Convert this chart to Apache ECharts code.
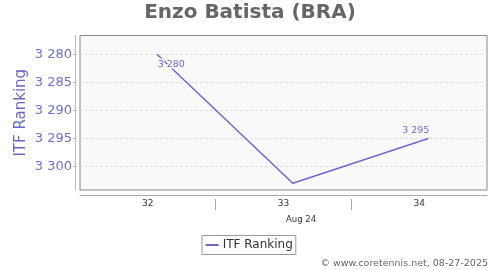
<!DOCTYPE html>
<html>
<head>
<meta charset="utf-8">
<script src="https://cdn.jsdelivr.net/npm/echarts@6/dist/echarts.min.js"></script>
<style>
html,body{margin:0;padding:0;background:#fff;}
#c{width:500px;height:270px;}
</style>
</head>
<body>
<div id="c"></div>
<script>
// ---- data ----
const categories = [32, 33, 34];
const rankingValues = [3280, 3303, 3295];
const labelShown = [true, false, true];
const yTickValues = [3280, 3285, 3290, 3295, 3300];
const periodLabel = 'Aug 24';
const seriesName = 'ITF Ranking';
const titleText = 'Enzo Batista (BRA)';
const creditText = '\u00a9 www.coretennis.net, 08-27-2025';

const FONT = 'DejaVu Sans';
const lineColor = '#6a6acc';

function fmt(v) {
  const s = String(Math.round(v));
  return s.replace(/\B(?=(\d{3})+(?!\d))/g, ' ');
}

const seriesData = categories.map((c, i) => {
  const item = { value: [c, rankingValues[i]] };
  if (labelShown[i]) {
    const first = i === 0;
    item.label = {
      show: true,
      position: first ? 'bottom' : 'top',
      distance: first ? 4 : 2.5,
      offset: first ? [14, 0] : [-12.5, 0]
    };
  } else {
    item.label = { show: false };
  }
  return item;
});

const boundaries = categories.slice(1).map(c => c - 0.5);

const chart = echarts.init(document.getElementById('c'), null, { renderer: 'canvas' });
chart.setOption({
  backgroundColor: '#fff',
  animation: false,
  textStyle: { fontFamily: FONT },
  title: {
    text: titleText,
    left: 'center',
    top: 3,
    padding: 0,
    textStyle: { fontFamily: FONT, fontSize: 20, fontWeight: 'bold', color: '#666' }
  },
  grid: {
    left: 80, top: 35.5, right: 13, bottom: 80,
    show: true, backgroundColor: '#f9f9f9', borderColor: '#888', borderWidth: 1
  },
  legend: {
    data: [seriesName],
    left: 202, top: 235.5,
    padding: [3.5, 3, 3.5, 3.7],
    itemWidth: 13, itemHeight: 2, icon: 'rect', itemGap: 4,
    borderColor: '#999', borderWidth: 1, backgroundColor: '#fff',
    textStyle: { fontFamily: FONT, fontSize: 12, color: '#333', padding: [0, 0, 0, -1] }
  },
  xAxis: [
    {
      type: 'category',
      data: categories.map(String),
      position: 'bottom',
      offset: 5,
      boundaryGap: true,
      axisLine: { show: true, lineStyle: { color: '#aaa', width: 1 } },
      axisTick: { show: false },
      axisLabel: { margin: 4, fontFamily: FONT, fontSize: 9, color: '#333' },
      splitLine: { show: false }
    },
    {
      type: 'value',
      min: categories[0] - 0.5,
      max: categories[categories.length - 1] + 0.5,
      position: 'bottom',
      offset: 9,
      axisLine: { show: false },
      axisTick: { show: true, length: 11, lineStyle: { color: '#aaa' }, customValues: boundaries },
      axisLabel: { show: false },
      splitLine: { show: false }
    },
    {
      type: 'value',
      min: 31.43,
      max: 34.433,
      show: false,
      splitLine: { show: false }
    }
  ],
  yAxis: {
    type: 'value',
    inverse: true,
    min: 3276.6,
    max: 3304.2,
    offset: 5,
    name: seriesName,
    nameLocation: 'middle',
    nameRotate: 90,
    nameGap: 46,
    nameMoveOverlap: false,
    nameTextStyle: { fontFamily: FONT, fontSize: 15, color: '#6666cc' },
    axisLine: { show: true, lineStyle: { color: '#b4b4e4', width: 1 } },
    axisTick: { show: true, length: 2, lineStyle: { color: '#b4b4e4' }, customValues: yTickValues },
    axisLabel: {
      margin: 3, fontFamily: FONT, fontSize: 13, color: '#6d6dcc',
      customValues: yTickValues,
      formatter: v => fmt(v)
    },
    splitLine: { show: true, lineStyle: { color: '#dddddd', type: [3, 2], width: 1 } }
  },
  series: [{
    name: seriesName,
    type: 'line',
    xAxisIndex: 2,
    data: seriesData,
    showSymbol: true,
    symbol: 'circle',
    symbolSize: 1,
    clip: false,
    color: lineColor,
    itemStyle: { color: lineColor },
    lineStyle: { color: lineColor, width: 1.5 },
    label: {
      show: true,
      fontFamily: FONT, fontSize: 9.5, color: '#6a6acc',
      textBorderColor: '#f9f9f9', textBorderWidth: 3,
      formatter: p => fmt(p.value[1])
    },
    emphasis: { disabled: true }
  }],
  graphic: [
    {
      type: 'text', x: 301, y: 220,
      style: { text: periodLabel, font: '8.5px "DejaVu Sans"', fill: '#333', textAlign: 'center', textVerticalAlign: 'middle' }
    },
    {
      type: 'text', right: 12, top: 258.5,
      style: { text: creditText, font: '9.5px "DejaVu Sans"', fill: '#666' }
    }
  ]
});
</script>
</body>
</html>
